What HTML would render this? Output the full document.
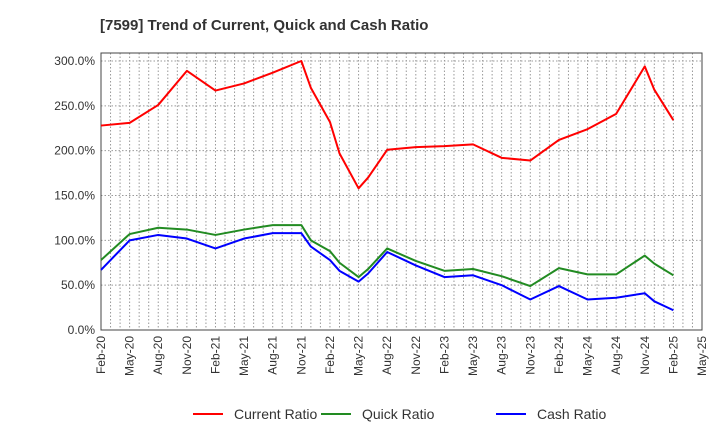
<!DOCTYPE html>
<html><head><meta charset="utf-8"><style>
body{margin:0;background:#fff;font-family:"Liberation Sans",sans-serif;}
</style></head><body>
<svg id="c" width="720" height="440" xmlns="http://www.w3.org/2000/svg">
<text x="100" y="30" font-size="15" font-weight="bold" fill="#333">[7599]  Trend of Current, Quick and Cash Ratio</text>
<g id="grid"></g><g id="axes"></g><g id="series"></g><g id="legend"></g>
</svg>
<script>
const dates=["Feb-20","May-20","Aug-20","Nov-20","Feb-21","May-21","Aug-21","Nov-21","Dec-21","Feb-22","Mar-22","May-22","Jun-22","Aug-22","Nov-22","Feb-23","May-23","Aug-23","Nov-23","Feb-24","May-24","Aug-24","Nov-24","Dec-24","Feb-25"];
const tickLabels=["Feb-20","May-20","Aug-20","Nov-20","Feb-21","May-21","Aug-21","Nov-21","Feb-22","May-22","Aug-22","Nov-22","Feb-23","May-23","Aug-23","Nov-23","Feb-24","May-24","Aug-24","Nov-24","Feb-25","May-25"];
const currentRatio=[228,231,251,289,267,275,287,300,270,232,197,158,170,201,204,205,207,192,189,212,224,241,294,268,234];
const quickRatio=[78,107,114,112,106,112,117,117,100,88,75,59,68,91,77,66,68,60,49,69,62,62,83,74,61];
const cashRatio=[67,100,106,102,91,102,108,108,93,78,66,54,63,87,72,59,61,50,34,49,34,36,41,32,22];
const yTicks=[0,50,100,150,200,250,300];
const NS="http://www.w3.org/2000/svg";
const MON=["Jan","Feb","Mar","Apr","May","Jun","Jul","Aug","Sep","Oct","Nov","Dec"];
const L=101,R=702,T=53,B=330,nMonths=63;
const monthIndex=lab=>{const [m,yy]=lab.split('-');return (parseInt(yy)-20)*12+MON.indexOf(m)-1;};
const xm=m=>L+(R-L)*m/nMonths;
const xd=lab=>xm(monthIndex(lab));
const y=v=>B-(B-61)*v/300;
function mk(t,a,p){const e=document.createElementNS(NS,t);for(const k in a)e.setAttribute(k,a[k]);p.appendChild(e);return e;}
const g=document.getElementById('grid'),ax=document.getElementById('axes'),s=document.getElementById('series'),lg=document.getElementById('legend');
for(let m=1;m<nMonths;m++){const l=mk('line',{x1:xm(m),x2:xm(m),y1:T,y2:B,stroke:'#999','stroke-dasharray':'1.5,2','stroke-width':1},g);

}
yTicks.forEach(v=>{if(v>0){const l=mk('line',{x1:L,x2:R,y1:y(v),y2:y(v),stroke:'#999','stroke-dasharray':'1.5,2'},g);

}
const t=mk('text',{x:L-6,y:y(v)+4,'text-anchor':'end','font-size':12,fill:'#333'},ax);t.textContent=v.toFixed(1)+'%';

});
const box=mk('rect',{x:L,y:T,width:R-L,height:B-T,fill:'none',stroke:'#444','stroke-width':1},ax);


tickLabels.forEach(lab=>{const px=xd(lab);const t=mk('text',{transform:`translate(${px+4},${B+6}) rotate(-90)`,'text-anchor':'end','font-size':12,fill:'#333'},ax);t.textContent=lab;

});
const series=[[currentRatio,'#ff0000','current-ratio-line','Current Ratio'],[quickRatio,'#228b22','quick-ratio-line','Quick Ratio'],[cashRatio,'#0000ff','cash-ratio-line','Cash Ratio']];
series.forEach(([d,c,n])=>{const p=mk('polyline',{points:d.map((v,i)=>xd(dates[i])+','+y(v)).join(' '),fill:'none',stroke:c,'stroke-width':2,'stroke-linejoin':'round'},s);

});
const lx=[193,321,496];
series.forEach(([d,c,n,label],i)=>{const l=mk('line',{x1:lx[i],x2:lx[i]+30,y1:414,y2:414,stroke:c,'stroke-width':2},lg);


const t=mk('text',{x:lx[i]+41,y:419,'font-size':14,fill:'#333'},lg);t.textContent=label;

});
</script>
</body></html>
